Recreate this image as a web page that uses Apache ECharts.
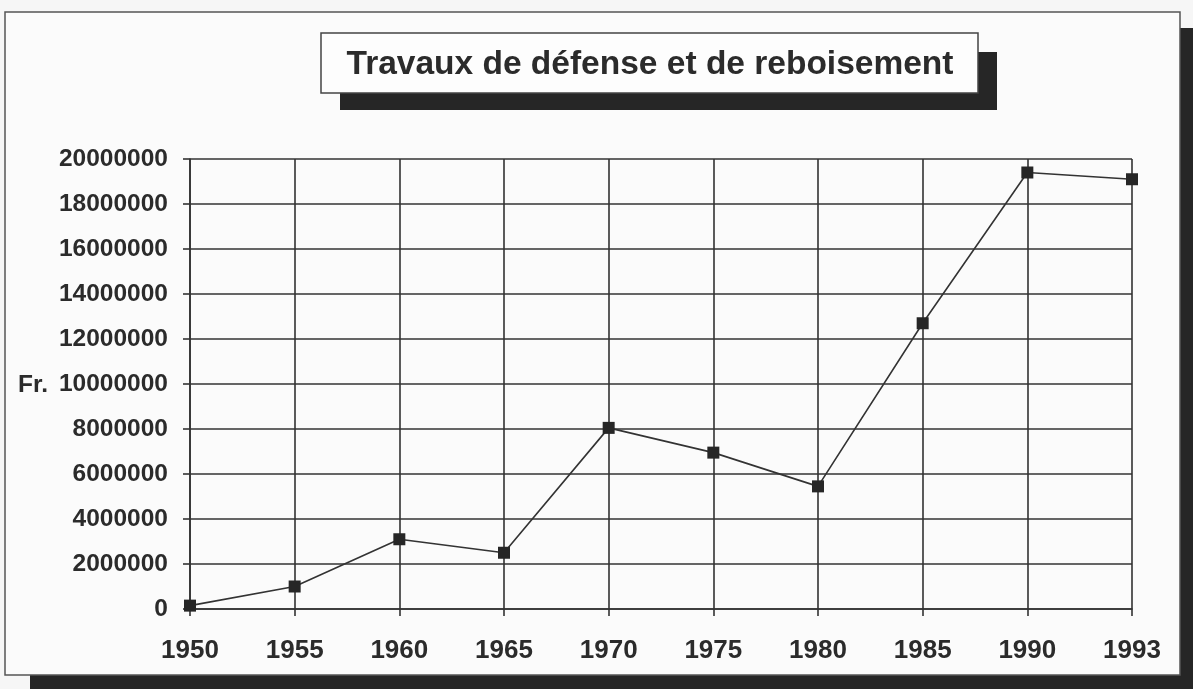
<!DOCTYPE html>
<html>
<head>
<meta charset="utf-8">
<script src="https://cdn.jsdelivr.net/npm/echarts@6/dist/echarts.min.js"></script>
<style>
html, body { margin: 0; padding: 0; background: #f6f6f6; }
#main { width: 1193px; height: 689px; }
</style>
</head>
<body>
<div id="main"></div>
<script>
// annees et montants (Fr.)
var years = ['1950', '1955', '1960', '1965', '1970', '1975', '1980', '1985', '1990', '1993'];
var montants = [150000, 1000000, 3100000, 2500000, 8050000, 6950000, 5450000, 12700000, 19400000, 19100000];
var titre = 'Travaux de défense et de reboisement';

var inkColor = '#2b2b2b';
var shadowColor = '#262626';
var chart = echarts.init(document.getElementById('main'));

var option = {
    backgroundColor: '#f6f6f6',
    animation: false,
    textStyle: { fontFamily: 'Liberation Sans, Arial, sans-serif' },
    graphic: [
        // ombre du cadre
        { type: 'rect', z: -20, shape: { x: 30, y: 28, width: 1163, height: 661 }, style: { fill: shadowColor } },
        // cadre
        { type: 'rect', z: -19, shape: { x: 5, y: 12, width: 1175, height: 663 }, style: { fill: '#fbfbfb', stroke: '#555', lineWidth: 1.5 } },
        // ombre du titre
        { type: 'rect', z: -18, shape: { x: 340, y: 52, width: 657, height: 58 }, style: { fill: shadowColor } },
        // boite du titre
        { type: 'rect', z: -17, shape: { x: 321, y: 33, width: 657, height: 60 }, style: { fill: '#fdfdfd', stroke: '#444', lineWidth: 1.5 } }
    ],
    title: [{
        text: titre,
        left: 650,
        top: 65,
        textAlign: 'center',
        textVerticalAlign: 'middle',
        padding: 0,
        textStyle: {
            color: inkColor,
            fontSize: 33.5,
            fontWeight: 'bold',
            fontFamily: 'Liberation Sans, Arial, sans-serif'
        }
    }, {
        text: 'Fr.',
        left: 18,
        top: 373,
        padding: 0,
        textStyle: {
            color: inkColor,
            fontSize: 24.5,
            fontWeight: 'bold',
            fontFamily: 'Liberation Sans, Arial, sans-serif'
        }
    }],
    grid: {
        left: 190,
        right: 61,
        top: 159,
        bottom: 80
    },
    xAxis: {
        type: 'category',
        boundaryGap: false,
        data: years,
        axisLine: { lineStyle: { color: '#333', width: 1.6 } },
        axisTick: { show: true, inside: false, length: 7, alignWithLabel: true, lineStyle: { color: '#333', width: 1.6 } },
        axisLabel: {
            margin: 29,
            color: inkColor,
            fontSize: 26,
            fontWeight: 'bold'
        },
        splitLine: { show: true, lineStyle: { color: '#333', width: 1.6 } }
    },
    yAxis: {
        type: 'value',
        min: 0,
        max: 20000000,
        interval: 2000000,
        axisLine: { show: true, lineStyle: { color: '#333', width: 1.6 } },
        axisTick: { show: true, length: 7, lineStyle: { color: '#333', width: 1.6 } },
        axisLabel: {
            margin: 22,
            color: inkColor,
            fontSize: 24.5,
            fontWeight: 'bold',
            formatter: function (v) { return String(v); }
        },
        splitLine: { show: true, lineStyle: { color: '#333', width: 1.6 } }
    },
    series: [{
        name: titre,
        type: 'line',
        data: montants,
        symbol: 'rect',
        symbolSize: 12,
        itemStyle: { color: '#262626' },
        lineStyle: { color: '#333', width: 1.6 },
        z: 5
    }]
};
chart.setOption(option);
</script>
</body>
</html>
